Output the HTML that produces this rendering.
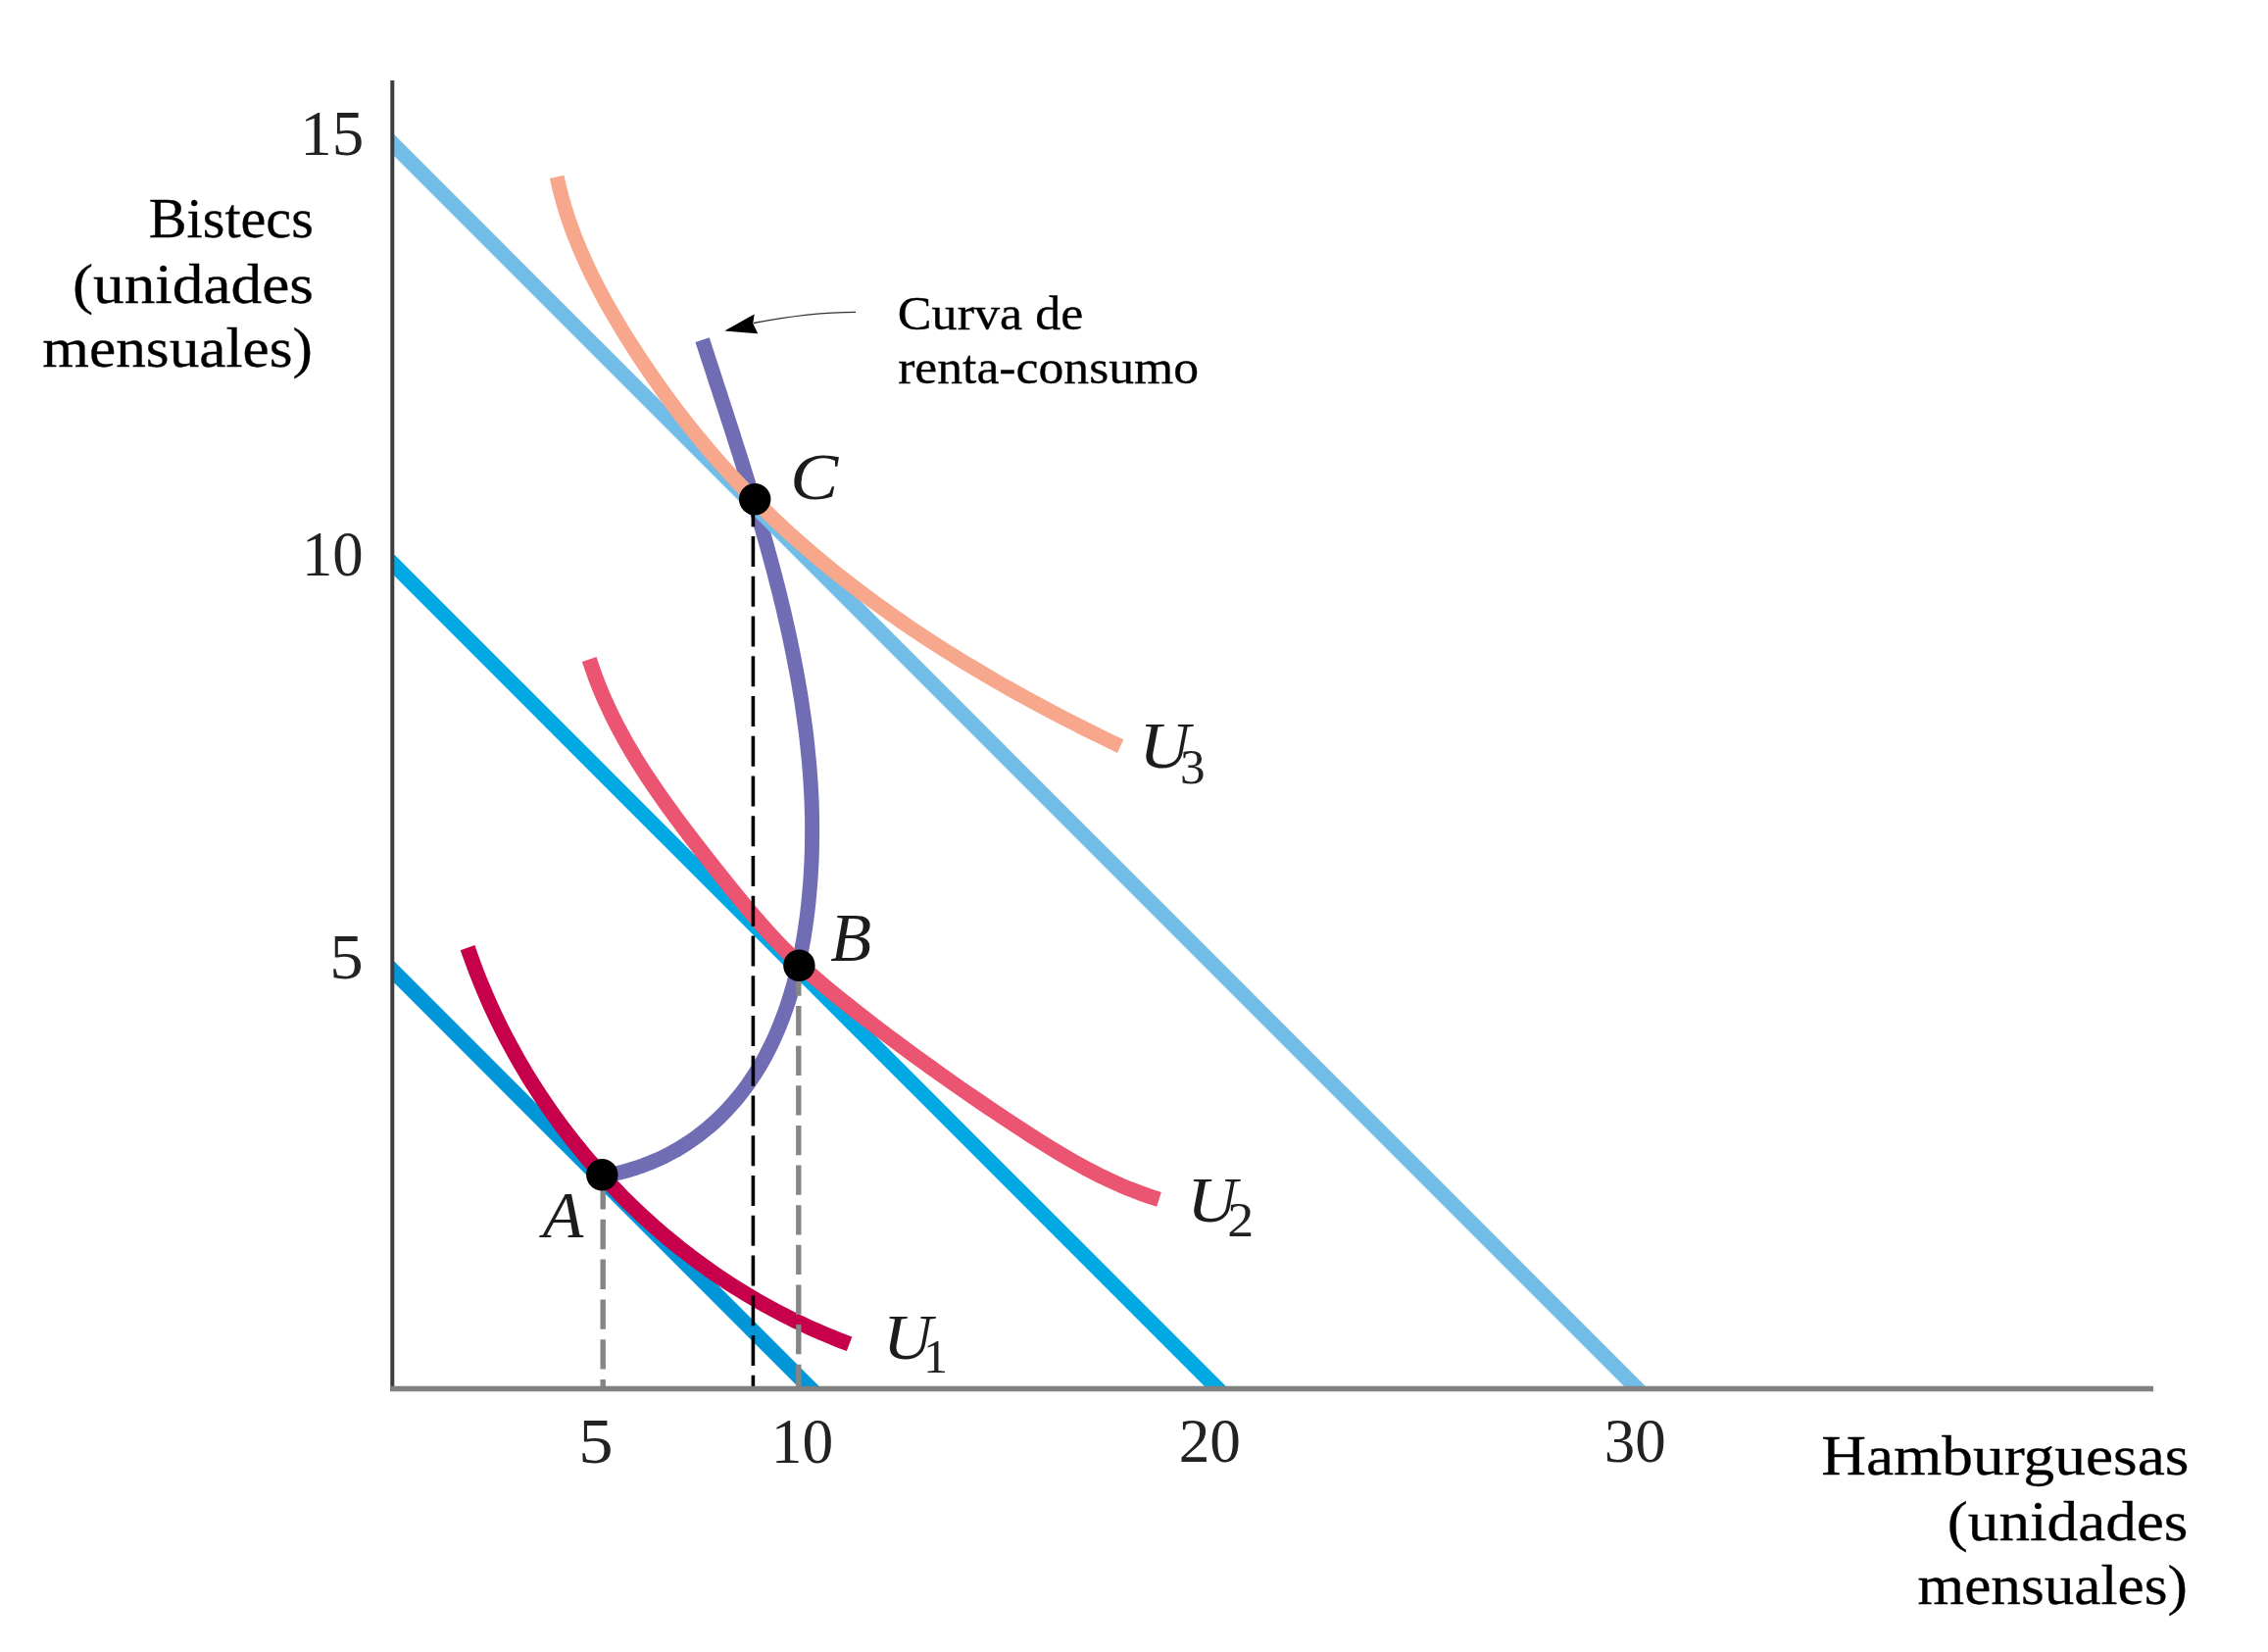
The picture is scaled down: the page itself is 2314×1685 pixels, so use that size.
<!DOCTYPE html>
<html lang="es"><head><meta charset="utf-8"><title>Curva de renta-consumo</title>
<style>
html,body{margin:0;padding:0;background:#fff;}
body{width:2314px;height:1685px;overflow:hidden;}
svg{display:block;font-family:"Liberation Serif", serif;}
.lab{fill:#000;stroke:#000;stroke-width:0.3px;}
.num{fill:#222;filter:url(#soft);}
.it{fill:#1c1c1c;filter:url(#soft);}
</style></head><body>
<svg width="2314" height="1685" viewBox="0 0 2314 1685">
<defs><filter id="soft" x="-10%" y="-10%" width="120%" height="120%"><feGaussianBlur stdDeviation="0.7"/></filter><filter id="aa" filterUnits="userSpaceOnUse" x="0" y="0" width="2314" height="1685"><feGaussianBlur stdDeviation="0.55"/></filter></defs>
<rect width="2314" height="1685" fill="#fff"/>

<g filter="url(#aa)">
<polyline points="716.6,346.6 718.7,353.1 720.8,359.6 722.9,366.1 725.1,372.6 727.2,379.1 729.3,385.6 731.4,392.2 733.6,398.7 735.7,405.3 737.8,411.8 740.0,418.4 742.1,425.0 744.2,431.6 746.4,438.2 748.5,444.8 750.6,451.4 752.7,458.0 754.8,464.6 756.9,471.3 759.0,477.9 761.0,484.6 763.1,491.2 765.1,497.9 767.2,504.6 769.2,511.2 771.2,517.9 773.2,524.6 775.1,531.3 777.1,538.0 779.0,544.7 780.9,551.5 782.8,558.2 784.6,564.9 786.5,571.7 788.3,578.4 790.1,585.2 791.8,591.9 793.6,598.7 795.3,605.5 796.9,612.3 798.6,619.0 800.2,625.8 801.7,632.6 803.3,639.4 804.8,646.2 806.3,653.1 807.7,659.9 809.1,666.7 810.4,673.5 811.7,680.4 813.0,687.2 814.3,694.1 815.4,700.9 816.6,707.8 817.7,714.6 818.7,721.5 819.7,728.4 820.7,735.3 821.6,742.1 822.5,749.0 823.3,755.9 824.0,762.8 824.7,769.7 825.4,776.6 826.0,783.6 826.5,790.5 827.0,797.4 827.4,804.3 827.8,811.2 828.1,818.2 828.3,825.1 828.5,832.1 828.6,839.0 828.6,845.9 828.6,852.9 828.5,859.9 828.4,866.8 828.2,873.8 827.9,880.7 827.5,887.7 827.1,894.7 826.6,901.7 826.0,908.6 825.4,915.6 824.7,922.6 823.9,929.6 823.0,936.6 822.0,943.6 821.0,950.5 819.9,957.5 818.6,964.4 817.3,971.3 815.9,978.2 814.4,985.0 812.8,991.9 811.1,998.6 809.3,1005.4 807.3,1012.1 805.3,1018.7 803.2,1025.3 800.9,1031.9 798.5,1038.4 796.0,1044.8 793.4,1051.1 790.7,1057.4 787.8,1063.6 784.8,1069.8 781.7,1075.8 778.4,1081.8 775.0,1087.7 771.4,1093.5 767.7,1099.2 763.9,1104.8 759.9,1110.3 755.8,1115.7 751.5,1121.0 747.1,1126.1 742.6,1131.1 737.8,1136.1 733.0,1140.8 728.0,1145.5 722.8,1150.0 717.5,1154.3 712.1,1158.5 706.5,1162.5 700.8,1166.4 694.9,1170.1 688.9,1173.7 682.7,1177.0 676.4,1180.2 669.9,1183.2 663.3,1186.0 656.6,1188.6 649.7,1191.0 642.6,1193.2 635.4,1195.2 628.1,1197.0 620.6,1198.6 612.9,1199.9" fill="none" stroke="#716db5" stroke-width="15" stroke-linejoin="round"/>
<clipPath id="plot"><rect x="402" y="0" width="1900" height="1415"/></clipPath>
<g fill="none" stroke-linecap="butt" clip-path="url(#plot)">
<line x1="390" y1="136.0" x2="1684.0" y2="1430.0" stroke="#72bde8" stroke-width="15.5"/>
<line x1="390" y1="564.1" x2="1255.9" y2="1430.0" stroke="#00a9e3" stroke-width="15.5"/>
<line x1="390" y1="979.2" x2="840.8" y2="1430.0" stroke="#0096d8" stroke-width="15.5"/>
</g>
<g fill="none" stroke-linecap="butt" stroke-linejoin="round">
<polyline points="568.2,180.4 570.5,190.8 573.2,201.1 576.1,211.4 579.3,221.5 582.8,231.6 586.5,241.5 590.5,251.4 594.7,261.1 599.1,270.8 603.7,280.4 608.5,290.0 613.4,299.4 618.5,308.8 623.8,318.1 629.2,327.3 634.7,336.5 640.3,345.6 646.1,354.6 651.9,363.6 657.8,372.5 663.8,381.3 669.9,390.1 676.1,398.8 682.4,407.4 688.7,416.0 695.2,424.4 701.8,432.8 708.4,441.2 715.2,449.4 722.0,457.6 728.9,465.7 736.0,473.7 743.1,481.6 750.3,489.4 757.6,497.2 764.9,504.9 772.4,512.4 780.0,519.9 787.6,527.3 795.4,534.7 803.2,541.9 811.1,549.0 819.1,556.1 827.2,563.1 835.3,570.0 843.5,576.8 851.8,583.5 860.2,590.1 868.6,596.7 877.1,603.2 885.6,609.6 894.3,616.0 902.9,622.2 911.7,628.4 920.5,634.5 929.3,640.6 938.2,646.5 947.2,652.4 956.2,658.2 965.2,664.0 974.3,669.7 983.4,675.3 992.6,680.8 1001.8,686.3 1011.1,691.7 1020.3,697.1 1029.7,702.4 1039.0,707.6 1048.4,712.8 1057.8,717.9 1067.2,722.9 1076.6,727.9 1086.1,732.8 1095.6,737.7 1105.1,742.5 1114.6,747.2 1124.1,751.9 1133.6,756.6 1143.2,761.1" stroke="#f7a88c" stroke-width="15"/>
<polyline points="601.2,672.6 604.6,682.6 608.1,692.4 611.9,702.1 616.0,711.7 620.3,721.1 624.7,730.5 629.4,739.7 634.3,748.9 639.3,757.9 644.5,766.9 649.9,775.7 655.4,784.5 661.1,793.2 666.9,801.9 672.8,810.4 678.8,819.0 684.9,827.4 691.0,835.8 697.3,844.2 703.6,852.5 710.0,860.8 716.4,869.0 722.9,877.2 729.3,885.4 735.8,893.6 742.3,901.8 748.9,909.9 755.5,917.9 762.1,925.9 768.8,933.8 775.6,941.6 782.5,949.4 789.5,957.0 796.6,964.5 803.8,971.8 811.2,979.0 818.7,986.1 826.3,993.0 834.1,999.7 842.0,1006.4 850.0,1012.9 858.0,1019.4 866.1,1025.9 874.2,1032.3 882.4,1038.6 890.6,1045.0 898.9,1051.3 907.2,1057.6 915.5,1063.8 923.9,1070.0 932.3,1076.2 940.7,1082.3 949.2,1088.4 957.7,1094.5 966.2,1100.5 974.7,1106.5 983.3,1112.5 991.9,1118.4 1000.5,1124.2 1009.1,1130.1 1017.8,1135.9 1026.4,1141.6 1035.1,1147.4 1043.8,1153.0 1052.5,1158.7 1061.3,1164.2 1070.1,1169.7 1078.9,1175.1 1087.8,1180.4 1096.8,1185.6 1105.8,1190.6 1115.0,1195.4 1124.2,1200.1 1133.6,1204.5 1143.1,1208.8 1152.7,1212.8 1162.5,1216.6 1172.4,1220.1 1182.5,1223.3" stroke="#ec5471" stroke-width="15.5"/>
<polyline points="477.1,966.6 479.5,973.5 482.0,980.4 484.5,987.3 487.2,994.2 489.9,1001.0 492.7,1007.8 495.6,1014.6 498.5,1021.3 501.5,1028.0 504.6,1034.7 507.8,1041.3 511.0,1047.9 514.3,1054.4 517.7,1060.9 521.2,1067.4 524.7,1073.8 528.3,1080.2 532.0,1086.6 535.7,1092.9 539.5,1099.2 543.4,1105.4 547.4,1111.6 551.4,1117.7 555.5,1123.8 559.6,1129.9 563.8,1135.9 568.1,1141.8 572.4,1147.7 576.9,1153.6 581.3,1159.4 585.9,1165.2 590.5,1170.9 595.1,1176.6 599.8,1182.2 604.6,1187.7 609.4,1193.2 614.3,1198.7 619.3,1204.1 624.3,1209.4 629.4,1214.7 634.5,1220.0 639.7,1225.2 645.0,1230.3 650.3,1235.3 655.6,1240.3 661.0,1245.3 666.5,1250.2 672.0,1255.0 677.6,1259.8 683.2,1264.5 688.9,1269.1 694.6,1273.7 700.4,1278.2 706.2,1282.6 712.1,1287.0 718.0,1291.3 724.0,1295.6 730.0,1299.8 736.1,1303.9 742.2,1307.9 748.4,1311.9 754.6,1315.8 760.8,1319.6 767.1,1323.4 773.5,1327.1 779.9,1330.7 786.3,1334.2 792.8,1337.7 799.3,1341.1 805.8,1344.4 812.4,1347.7 819.1,1350.8 825.7,1353.9 832.4,1356.9 839.2,1359.9 846.0,1362.7 852.8,1365.5 859.7,1368.2 866.6,1370.8" stroke="#c7034b" stroke-width="15.5"/>
</g>
<line x1="768.4" y1="506.15" x2="768.4" y2="1415" stroke="#000" stroke-width="3.6" stroke-dasharray="31 9.75"/>
<line x1="615.2" y1="1203" x2="615.2" y2="1415" stroke="#868686" stroke-width="5.4" stroke-dasharray="30.4 10.4"/>
<line x1="814.8" y1="985.5" x2="814.8" y2="1415" stroke="#868686" stroke-width="5.4" stroke-dasharray="30.2 10.42"/>
<line x1="400.3" y1="82" x2="400.3" y2="1419" stroke="#3c3c3c" stroke-width="4"/>
<line x1="398.5" y1="1416.4" x2="2197" y2="1416.4" stroke="#808080" stroke-width="5.5"/>
<circle cx="770.2" cy="509.3" r="16.2" fill="#000"/>
<circle cx="815.4" cy="984.8" r="16.2" fill="#000"/>
<circle cx="614.3" cy="1198.3" r="16.2" fill="#000"/>
<path d="M873,318.3 C850,318.3 815,320.5 769,329.5" fill="none" stroke="#333" stroke-width="1.3"/>
<path d="M739.2,337.6 L769.7,320.4 L768.3,329.7 L773.2,340.3 Z" fill="#000"/>
</g>
<g class="lab">
<text transform="translate(151.79,242.20) scale(1.0031,1.0000)" font-size="58">Bistecs</text>
<text transform="translate(73.93,308.60) scale(1.0914,1.0000)" font-size="58">(unidades</text>
<text transform="translate(43.34,374.30) scale(1.0564,1.0000)" font-size="58">mensuales)</text>
<text transform="translate(915.85,335.80) scale(1.0746,1.0000)" font-size="48.5">Curva de</text>
<text transform="translate(916.13,390.60) scale(1.0653,1.0000)" font-size="48.5">renta-consumo</text>
<text transform="translate(1858.22,1503.90) scale(1.0923,1.0000)" font-size="58">Hamburguesas</text>
<text transform="translate(1986.73,1570.60) scale(1.0900,1.0000)" font-size="58">(unidades</text>
<text transform="translate(1956.54,1636.30) scale(1.0556,1.0000)" font-size="58">mensuales)</text>
</g>
<g class="num">
<text transform="translate(306.29,157.60) scale(1.0018,0.9955)" font-size="65">15</text>
<text transform="translate(308.01,586.80) scale(0.9649,0.9955)" font-size="65">10</text>
<text transform="translate(336.35,998.00) scale(1.0615,0.9955)" font-size="65">5</text>
<text transform="translate(590.15,1491.60) scale(1.0885,0.9955)" font-size="65">5</text>
<text transform="translate(786.85,1491.60) scale(0.9754,0.9955)" font-size="65">10</text>
<text transform="translate(1202.68,1491.41) scale(0.9733,0.9909)" font-size="65">20</text>
<text transform="translate(1636.80,1491.41) scale(0.9683,0.9909)" font-size="65">30</text>
</g>
<g class="it">
<text transform="translate(806.28,508.60) scale(1.0810,1.0000)" font-size="68" font-style="italic">C</text>
<text transform="translate(847.19,980.20) scale(1.0077,1.0182)" font-size="68" font-style="italic">B</text>
<text transform="translate(553.70,1262.30) scale(1.0000,0.9818)" font-size="68" font-style="italic">A</text>
<text transform="translate(900.97,1385.60) scale(1.0556,1.0045)" font-size="66" font-style="italic">U</text>
<text transform="translate(1211.19,1245.62) scale(1.0689,0.9841)" font-size="66" font-style="italic">U</text>
<text transform="translate(1162.27,783.48) scale(1.0889,1.0250)" font-size="66" font-style="italic">U</text>
</g>
<g class="num">
<text transform="translate(942.02,1399.90) scale(1.0706,1.0161)" font-size="47">1</text>
<text transform="translate(1252.21,1261.10) scale(1.1474,1.0742)" font-size="47">2</text>
<text transform="translate(1204.12,798.70) scale(1.0900,1.0935)" font-size="47">3</text>
</g>
</svg></body></html>
